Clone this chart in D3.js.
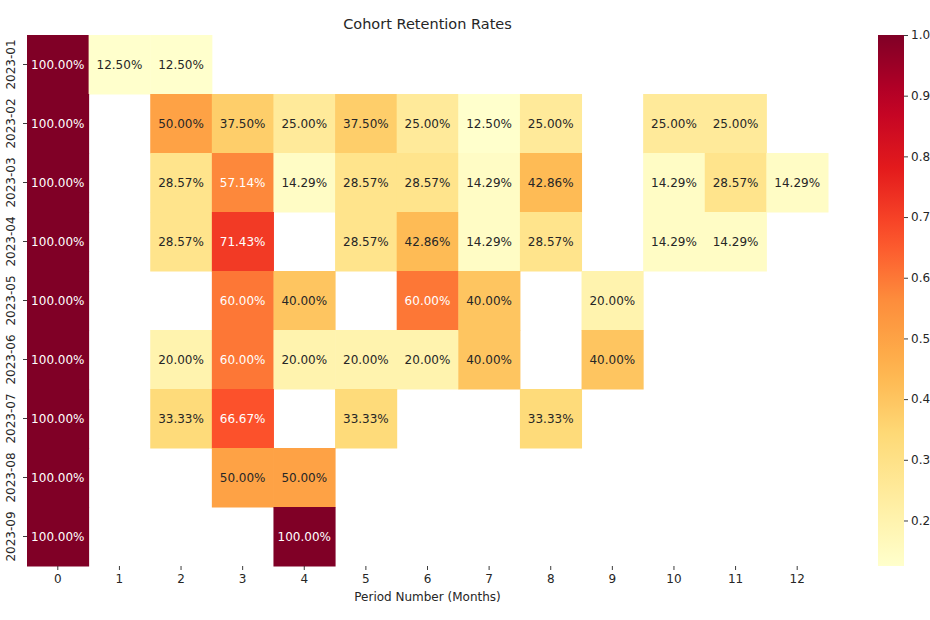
<!DOCTYPE html>
<html>
<head>
<meta charset="utf-8">
<script src="https://cdn.jsdelivr.net/npm/d3@7"></script>
<style>
  body { margin: 0; background: #fff; overflow: hidden; }
  text { font-family: "DejaVu Sans", sans-serif; }
</style>
</head>
<body>
<div id="chart-container"></div>
<script>
// cohort labels and period numbers
const cohorts = ["2023-01", "2023-02", "2023-03", "2023-04", "2023-05", "2023-06", "2023-07", "2023-08", "2023-09"];
const periods = [0, 1, 2, 3, 4, 5, 6, 7, 8, 9, 10, 11, 12];

// retention per cohort, null = no value
const r2301 = [1.0, 0.125, 0.125, null, null, null, null, null, null, null, null, null, null];
const r2302 = [1.0, null, 0.5, 0.375, 0.25, 0.375, 0.25, 0.125, 0.25, null, 0.25, 0.25, null];
const r2303 = [1.0, null, 0.2857, 0.5714, 0.1429, 0.2857, 0.2857, 0.1429, 0.4286, null, 0.1429, 0.2857, 0.1429];
const r2304 = [1.0, null, 0.2857, 0.7143, null, 0.2857, 0.4286, 0.1429, 0.2857, null, 0.1429, 0.1429, null];
const r2305 = [1.0, null, null, 0.6, 0.4, null, 0.6, 0.4, null, 0.2, null, null, null];
const r2306 = [1.0, null, 0.2, 0.6, 0.2, 0.2, 0.2, 0.4, null, 0.4, null, null, null];
const r2307 = [1.0, null, 0.3333, 0.6667, null, 0.3333, null, null, 0.3333, null, null, null, null];
const r2308 = [1.0, null, null, 0.5, 0.5, null, null, null, null, null, null, null, null];
const r2309 = [1.0, null, null, null, 1.0, null, null, null, null, null, null, null, null];
const rows = [r2301, r2302, r2303, r2304, r2305, r2306, r2307, r2308, r2309];

const colorbarTicks = [0.2, 0.3, 0.4, 0.5, 0.6, 0.7, 0.8, 0.9, 1.0];

// YlOrRd anchors
const ylOrRd = ["#ffffcc", "#ffeda0", "#fed976", "#feb24c", "#fd8d3c", "#fc4e2a", "#e31a1c", "#bd0026", "#800026"];

const width = 930, height = 620;
const margin = {top: 35, right: 102, bottom: 54, left: 27};
const plotW = width - margin.left - margin.right;
const plotH = height - margin.top - margin.bottom;

const cells = [];
rows.forEach((r, i) => r.forEach((v, j) => {
    if (v !== null) cells.push({cohort: cohorts[i], period: periods[j], value: v});
}));

const vmin = d3.min(cells, d => d.value);
const vmax = d3.max(cells, d => d.value);

const norm = d3.scaleLinear().domain([vmin, vmax]).range([0, 1]);
const colorScale = d3.scaleLinear()
    .domain(ylOrRd.map((c, i) => i / (ylOrRd.length - 1)))
    .range(ylOrRd)
    .interpolate(d3.interpolateRgb)
    .clamp(true);
const color = v => colorScale(norm(v));

function luminance(c) {
    const rgb = d3.rgb(c);
    const ch = [rgb.r, rgb.g, rgb.b].map(x => {
        x = x / 255;
        return x <= 0.03928 ? x / 12.92 : Math.pow((x + 0.055) / 1.055, 2.4);
    });
    return 0.2126 * ch[0] + 0.7152 * ch[1] + 0.0722 * ch[2];
}

const svg = d3.select("#chart-container").append("svg")
    .attr("width", width)
    .attr("height", height);

const chartGroup = svg.append("g")
    .attr("transform", `translate(${margin.left}, ${margin.top})`);

const xScale = d3.scaleBand().domain(periods).range([0, plotW]);
const yScale = d3.scaleBand().domain(cohorts).range([0, plotH]);

chartGroup.selectAll("rect.cell")
    .data(cells)
    .enter().append("rect")
    .attr("class", "cell")
    .attr("x", d => xScale(d.period))
    .attr("y", d => yScale(d.cohort))
    .attr("width", xScale.bandwidth() + 0.5)
    .attr("height", yScale.bandwidth() + 0.5)
    .attr("fill", d => color(d.value));

chartGroup.selectAll("text.annot")
    .data(cells)
    .enter().append("text")
    .attr("class", "annot")
    .attr("x", d => xScale(d.period) + xScale.bandwidth() / 2)
    .attr("y", d => yScale(d.cohort) + yScale.bandwidth() / 2)
    .attr("text-anchor", "middle")
    .attr("dominant-baseline", "central")
    .attr("font-size", 12)
    .attr("fill", d => luminance(color(d.value)) > 0.408 ? "#262626" : "#ffffff")
    .text(d => (d.value * 100).toFixed(2) + "%");

// axes
const xAxis = chartGroup.append("g")
    .attr("transform", `translate(0, ${plotH})`)
    .call(d3.axisBottom(xScale).tickSize(4).tickPadding(4));
const yAxis = chartGroup.append("g")
    .call(d3.axisLeft(yScale).tickSize(4).tickPadding(3));

[xAxis, yAxis].forEach(a => {
    a.select(".domain").remove();
    a.selectAll(".tick line").attr("stroke", "#262626").attr("stroke-width", 0.9);
    a.selectAll(".tick text").attr("font-size", 12).attr("fill", "#262626")
        .attr("font-family", "DejaVu Sans, sans-serif");
});

yAxis.selectAll(".tick text")
    .attr("transform", "rotate(-90)")
    .attr("x", 0)
    .attr("y", -12)
    .attr("dy", "0")
    .attr("text-anchor", "middle");

svg.append("text")
    .attr("x", margin.left + plotW / 2)
    .attr("y", 29)
    .attr("text-anchor", "middle")
    .attr("font-size", 14.5)
    .attr("fill", "#262626")
    .text("Cohort Retention Rates");

svg.append("text")
    .attr("x", margin.left + plotW / 2)
    .attr("y", 601)
    .attr("text-anchor", "middle")
    .attr("font-size", 12)
    .attr("fill", "#262626")
    .text("Period Number (Months)");

// colorbar
const cbX = 878, cbW = 26;
const cbScale = d3.scaleLinear().domain([vmin, vmax]).range([margin.top + plotH, margin.top]);
const defs = svg.append("defs");
const grad = defs.append("linearGradient")
    .attr("id", "cb-grad")
    .attr("x1", 0).attr("y1", 1).attr("x2", 0).attr("y2", 0);
d3.range(0, 1.0001, 0.05).forEach(t => {
    grad.append("stop")
        .attr("offset", t)
        .attr("stop-color", colorScale(t));
});
svg.append("rect")
    .attr("x", cbX)
    .attr("y", margin.top)
    .attr("width", cbW)
    .attr("height", plotH)
    .attr("fill", "url(#cb-grad)");

// labels kept inside the window (the reference cuts them at the edge)
const cbAxis = svg.append("g")
    .attr("transform", `translate(${cbX + cbW}, 0)`)
    .call(d3.axisRight(cbScale).tickValues(colorbarTicks).tickFormat(d3.format(".1f")).tickSize(4).tickPadding(3));
cbAxis.select(".domain").remove();
cbAxis.selectAll(".tick line").attr("stroke", "#262626").attr("stroke-width", 0.9);
cbAxis.selectAll(".tick text").attr("font-size", 12).attr("fill", "#262626")
    .attr("font-family", "DejaVu Sans, sans-serif");
</script>
</body>
</html>
